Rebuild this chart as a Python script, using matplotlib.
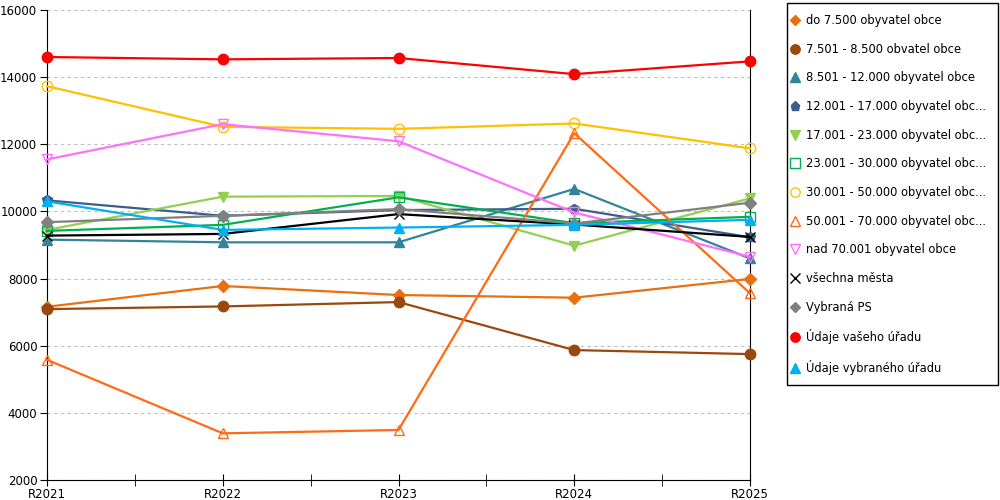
import matplotlib
matplotlib.use("Agg")
import matplotlib.pyplot as plt
from matplotlib.lines import Line2D
from matplotlib.patches import Rectangle
from matplotlib.ticker import MultipleLocator

years = ["R2021", "R2022", "R2023", "R2024", "R2025"]

do_7500 = [7160, 7780, 7510, 7430, 7990]
s_7501_8500 = [7090, 7170, 7300, 5870, 5750]
s_8501_12000 = [9160, 9080, 9080, 10670, 8600]
s_12001_17000 = [10330, 9870, 10040, 10080, 9230]
s_17001_23000 = [9450, 10440, 10460, 8980, 10390]
s_23001_30000 = [9420, 9600, 10420, 9650, 9840]
s_30001_50000 = [13730, 12520, 12460, 12620, 11880]
s_50001_70000 = [5580, 3390, 3490, 12330, 7560]
nad_70001 = [11550, 12600, 12090, 9970, 8650]
vsechna_mesta = [9280, 9330, 9920, 9610, 9240]
vybrana_ps = [9680, 9870, 10070, 9640, 10260]
vas_urad = [14600, 14530, 14570, 14090, 14470]
vybrany_urad = [10300, 9450, 9520, 9600, 9750]

labels = [
    "do 7.500 obyvatel obce",
    "7.501 - 8.500 obvatel obce",
    "8.501 - 12.000 obyvatel obce",
    "12.001 - 17.000 obyvatel obc...",
    "17.001 - 23.000 obyvatel obc...",
    "23.001 - 30.000 obyvatel obc...",
    "30.001 - 50.000 obyvatel obc...",
    "50.001 - 70.000 obyvatel obc...",
    "nad 70.001 obyvatel obce",
    "všechna města",
    "Vybraná PS",
    "Údaje vašeho úřadu",
    "Údaje vybraného úřadu",
]
series = [do_7500, s_7501_8500, s_8501_12000, s_12001_17000, s_17001_23000,
          s_23001_30000, s_30001_50000, s_50001_70000, nad_70001,
          vsechna_mesta, vybrana_ps, vas_urad, vybrany_urad]
colors = ["#E8700F", "#9A480C", "#31849B", "#3B5E8C", "#92D050", "#00B050",
          "#FFC000", "#FF6A13", "#FF70FF", "#000000", "#808080", "#FF0000",
          "#00B0F0"]
markers = ["D", "o", "^", "p", "v", "s", "o", "^", "v", "x", "D", "o", "^"]
filled = [True, True, True, True, True, False, False, False, False, True,
          True, True, True]
msizes = [6, 7.5, 7.5, 7.5, 7.5, 7.5, 7.5, 7.5, 7.5, 7.5, 6, 7.5, 7.5]

plt.rcParams["font.family"] = ["DejaVu Sans"]

fig = plt.figure(figsize=(10, 5), dpi=100)
ax = fig.add_axes([0.047, 0.04, 0.703, 0.94])

x = list(range(len(years)))
handles = []
for vals, lab, c, m, f, ms in zip(series, labels, colors, markers, filled, msizes):
    face = c if f else "none"
    ax.plot(x, vals, color=c, lw=1.6, marker=m, markersize=ms,
            markerfacecolor=face, markeredgecolor=c,
            markeredgewidth=1.0, clip_on=False, zorder=3)
    handles.append(Line2D([], [], linestyle="none", marker=m,
                          markersize=ms * 0.9, color=c, markerfacecolor=face,
                          markeredgecolor=c, markeredgewidth=1.0))

ax.set_xlim(0, 4)
ax.set_ylim(2000, 16000)
ax.set_xticks(x)
ax.set_xticklabels(years)
ax.xaxis.set_minor_locator(MultipleLocator(0.5))
ax.set_yticks(range(2000, 16001, 2000))
ax.tick_params(axis="x", which="both", direction="inout", length=8, pad=2,
               labelsize=8.5)
ax.tick_params(axis="y", direction="out", length=5, pad=2, labelsize=8.5)
ax.spines["top"].set_visible(False)
ax.grid(axis="y", color="#C0C0C0", linestyle=(0, (3, 3)), lw=0.8)
ax.set_axisbelow(True)

# legend frame drawn separately so the inner padding can differ per side
fig.patches.append(Rectangle((0.787, 1 - 385 / 500), 0.211, 382 / 500,
                             transform=fig.transFigure, fill=False,
                             edgecolor="black", lw=1))
fig.legend(handles, labels, loc="upper left", bbox_to_anchor=(0.788, 0.979),
           fontsize=8.3, frameon=False, handlelength=0.6, handletextpad=0.66,
           labelspacing=1.36, borderpad=0.3, borderaxespad=0)

fig.savefig("out.png", dpi=100)
